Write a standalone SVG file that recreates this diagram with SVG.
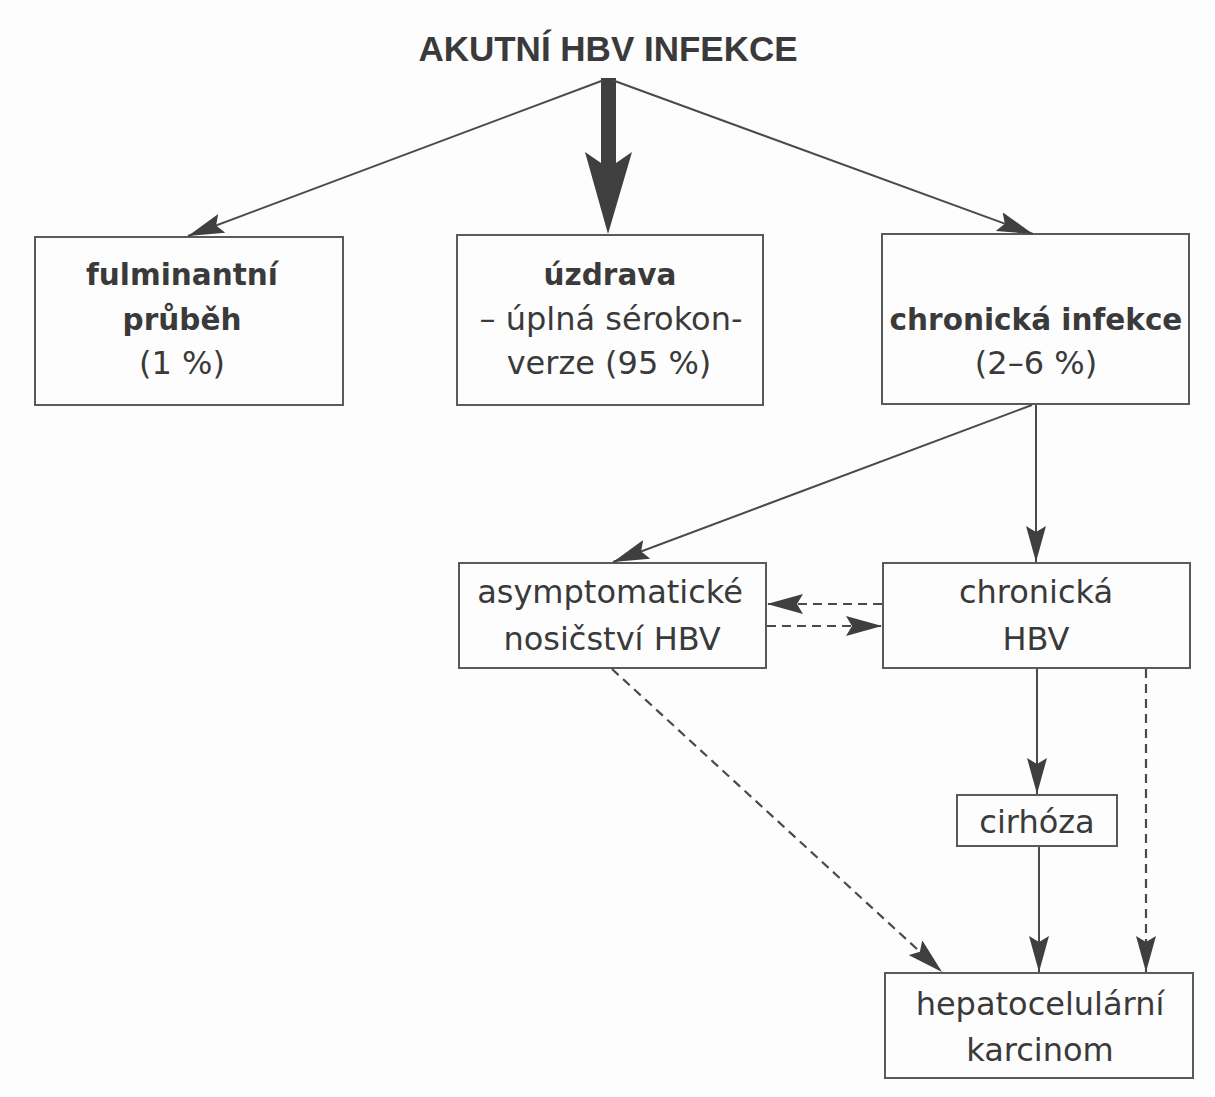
<svg xmlns="http://www.w3.org/2000/svg" width="1215" height="1097" viewBox="0 0 1215 1097">
<style>
.bx{fill:none;stroke:#5a5a5a;stroke-width:2}
.t{font-family:"DejaVu Sans",sans-serif;font-size:32px;fill:#3a3a3a;text-anchor:middle}
.b{font-weight:bold;font-size:29.5px}
.ln{fill:none;stroke:#4a4a4a;stroke-width:2}
.ds{stroke-dasharray:9 6;stroke-width:2.2}
</style>
<defs>
<marker id="ah" markerUnits="userSpaceOnUse" viewBox="0 0 36 20" markerWidth="36" markerHeight="20" refX="36" refY="10" orient="auto">
<path d="M36,10 L0,0 L6,10 L0,20 Z" fill="#3f3f3f"/>
</marker>
</defs>
<rect width="1215" height="1097" fill="#fdfdfd"/>
<g id="title"><text class="t" x="608" y="61" style="font-family:'Liberation Sans',sans-serif;font-weight:bold;font-size:35px">AKUTNÍ HBV INFEKCE</text></g>
<g id="fulminant"><rect class="bx" x="35" y="237" width="308" height="168"/>
<text class="t b" x="182" y="285">fulminantní</text>
<text class="t b" x="182" y="330">průběh</text>
<text class="t" x="182" y="374">(1 %)</text></g>
<g id="uzdrava"><rect class="bx" x="457" y="235" width="306" height="170"/>
<text class="t b" x="610" y="285">úzdrava</text>
<text class="t" x="611" y="330">– úplná sérokon-</text>
<text class="t" x="609" y="374">verze (95 %)</text></g>
<g id="chronicka-infekce"><rect class="bx" x="882" y="234" width="307" height="170"/>
<text class="t b" x="1036" y="330">chronická infekce</text>
<text class="t" x="1036" y="374">(2–6 %)</text></g>
<g id="asymptomaticke"><rect class="bx" x="459" y="563" width="307" height="105"/>
<text class="t" x="610" y="603">asymptomatické</text>
<text class="t" x="612" y="650">nosičství HBV</text></g>
<g id="chronicka-hbv"><rect class="bx" x="883" y="563" width="307" height="105"/>
<text class="t" x="1036" y="603">chronická</text>
<text class="t" x="1036" y="650">HBV</text></g>
<g id="cirhoza"><rect class="bx" x="957" y="795" width="160" height="51"/>
<text class="t" x="1037" y="833">cirhóza</text></g>
<g id="hcc"><rect class="bx" x="885" y="973" width="308" height="105"/>
<text class="t" x="1040" y="1015">hepatocelulární</text>
<text class="t" x="1040" y="1061">karcinom</text></g>
<g id="connectors">
<polygon points="601,78 601,163 585,152 608,234 632,152 616,163 616,78" fill="#3f3f3f"/>
<line class="ln" x1="604" y1="80" x2="188" y2="236" marker-end="url(#ah)"/>
<line class="ln" x1="612" y1="80" x2="1033" y2="234" marker-end="url(#ah)"/>
<line class="ln" x1="1032" y1="405" x2="613" y2="562" marker-end="url(#ah)"/>
<line class="ln" x1="1036" y1="405" x2="1036" y2="562" marker-end="url(#ah)"/>
<line class="ln ds" x1="882" y1="604" x2="767" y2="604" marker-end="url(#ah)"/>
<line class="ln ds" x1="767" y1="626" x2="882" y2="626" marker-end="url(#ah)"/>
<line class="ln ds" x1="612" y1="669" x2="942" y2="972" marker-end="url(#ah)"/>
<line class="ln" x1="1037" y1="669" x2="1037" y2="794" marker-end="url(#ah)"/>
<line class="ln" x1="1039" y1="847" x2="1039" y2="972" marker-end="url(#ah)"/>
<line class="ln ds" x1="1146" y1="669" x2="1146" y2="972" marker-end="url(#ah)"/>
</g>
</svg>
